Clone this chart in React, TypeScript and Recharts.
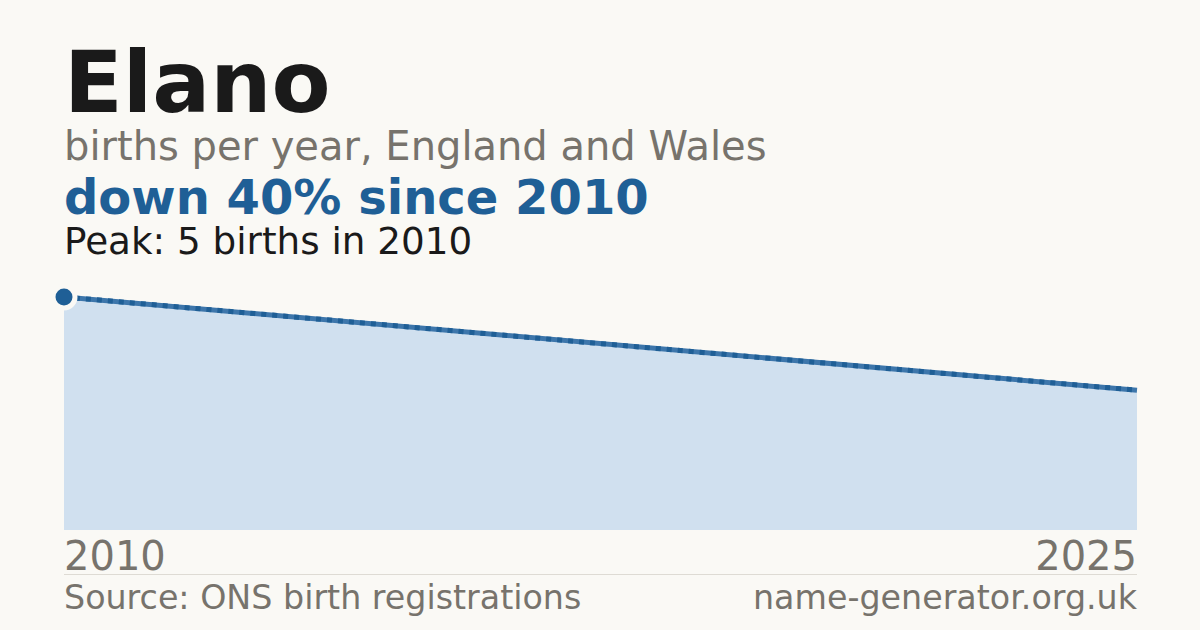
import React from "react";
import { ComposedChart, Area, Line, XAxis, YAxis } from "recharts";

const years = [2010, 2025];
const births = [5, 3];
const tickYears = [2010, 2025];

const data = years.map((year, i) => ({ year, births: births[i] }));

const BG = "#faf9f5";
const BLUE = "#1f5f96";
const GREY = "#77736c";
const FONT = "'DejaVu Sans', sans-serif";

function YearTick(props: any) {
  const { x, y, payload, index } = props;
  const anchor = index === 0 ? "start" : "end";
  return (
    <text x={x} y={y} dy={32} textAnchor={anchor} fontSize={40} fill={GREY} fontFamily={FONT}>
      {payload.value}
    </text>
  );
}

function PeakDot(props: any) {
  const { cx, cy, index } = props;
  if (index !== 0) return <g key={`d${index}`} />;
  return <circle key={`d${index}`} cx={cx} cy={cy} r={11} fill={BLUE} stroke={BG} strokeWidth={5} />;
}

// top is placed so the baseline lands where the reference has it
function text(baseline: number, size: number, color: string, weight: number, content: string) {
  const lh = Math.round(size * 0.8);
  return (
    <div
      style={{
        position: "absolute",
        left: 64,
        top: baseline - lh / 2 - 0.346 * size,
        fontSize: size,
        lineHeight: `${lh}px`,
        color,
        fontWeight: weight,
        whiteSpace: "nowrap",
      }}
    >
      {content}
    </div>
  );
}

export default function App() {
  return (
    <div
      style={{
        position: "absolute",
        left: 0,
        top: 0,
        width: 1200,
        height: 630,
        background: BG,
        fontFamily: FONT,
        overflow: "hidden",
      }}
    >
      {text(112.5, 86, "#1a1a1a", 700, "Elano")}
      {text(159.5, 40, GREY, 400, "births per year, England and Wales")}
      {text(213.5, 48, BLUE, 700, "down 40% since 2010")}
      {text(254, 37.3, "#1a1a1a", 400, "Peak: 5 births in 2010")}

      <div style={{ position: "absolute", left: 0, top: 0 }}>
        <ComposedChart
          width={1200}
          height={630}
          data={data}
          margin={{ top: 297, right: 63, bottom: 56, left: 64 }}
        >
          <XAxis
            dataKey="year"
            type="number"
            domain={[2010, 2025]}
            ticks={tickYears}
            tickLine={false}
            axisLine={false}
            height={44}
            interval={0}
            tick={<YearTick />}
          />
          <YAxis hide domain={[0, "dataMax"]} />
          <Area
            dataKey="births"
            type="linear"
            fill="#d0e0ef"
            fillOpacity={1}
            stroke="none"
            isAnimationActive={false}
          />
          <Line
            dataKey="births"
            type="linear"
            stroke="#3d76ab"
            strokeWidth={5}
            dot={false}
            isAnimationActive={false}
          />
          <Line
            dataKey="births"
            type="linear"
            stroke={BLUE}
            strokeWidth={5}
            strokeDasharray="5 6"
            dot={PeakDot}
            activeDot={false}
            isAnimationActive={false}
          />
        </ComposedChart>
      </div>

      <div style={{ position: "absolute", left: 64, top: 574, width: 1073, height: 1, background: "#dedbd4" }} />
      <div
        style={{
          position: "absolute",
          left: 64,
          top: 610 - 13 - 0.346 * 33.3,
          width: 1073,
          fontSize: 33.3,
          lineHeight: "26px",
          color: GREY,
          display: "flex",
          justifyContent: "space-between",
          whiteSpace: "nowrap",
        }}
      >
        <span>Source: ONS birth registrations</span>
        <span>name-generator.org.uk</span>
      </div>
    </div>
  );
}
